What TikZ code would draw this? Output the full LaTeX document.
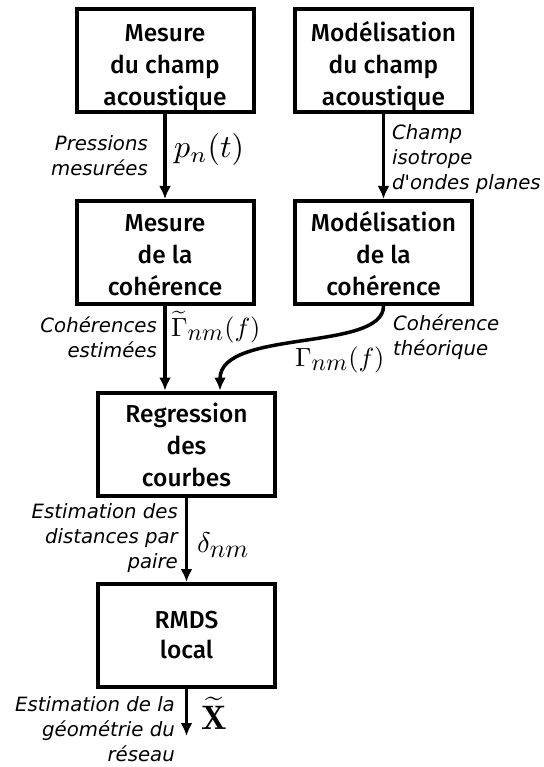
\documentclass[tikz,border=0pt]{standalone}
\usepackage{graphicx}
\usepackage{fontspec}
\newfontfamily\boxfont{Fira Sans Medium}
\newfontfamily\labfont{DejaVu Sans}[ItalicFont={DejaVu Sans Oblique}]
\DeclareMathSizes{10.95}{10.95}{10}{7}
\newcommand{\mathbigA}[2]{\scalebox{#1}{\fontsize{10.95}{13}\selectfont$#2$}}
\newcommand{\mathbigB}[2]{\scalebox{#1}{\fontsize{10}{12}\selectfont$#2$}}
\usetikzlibrary{arrows.meta}
\tikzset{
  blk/.style={draw, line width=4pt, minimum width=177pt, minimum height=103pt,
    align=center, inner sep=0pt, font=\boxfont\fontsize{24.5}{32}\selectfont},
  lab/.style={inner sep=0pt, font=\labfont\itshape\fontsize{19.7}{25}\selectfont},
  mth/.style={inner sep=0pt, anchor=west},
  arr/.style={line width=3.5pt, -{Latex[length=13pt,width=12pt]}}
}
\begin{document}
\begin{tikzpicture}[x=1pt,y=-1pt]
\useasboundingbox (0,0) rectangle (543,767);
\node[blk] (b1) at (165,61) {\rule{0pt}{30pt}Mesure\\du champ\\acoustique};
\node[blk] (b2) at (383.5,61) {\rule{0pt}{30pt}Modélisation\\du champ\\acoustique};
\node[blk] (b3) at (165,252.5) {\rule{0pt}{23pt}Mesure\\de la\\cohérence};
\node[blk] (b4) at (383.5,252.5) {\rule{0pt}{23pt}Modélisation\\de la\\cohérence};
\node[blk] (b5) at (186.5,444) {\rule{0pt}{21pt}Regression\\des\\courbes};
\node[blk] (b6) at (186.5,635.5) {RMDS\\[-2pt]local};
\coordinate (cb) at ([xshift=33.5pt]b5.north);
\coordinate (fin) at (186.5,736);
\draw[arr] (b1.south) -- (b3.north);
\draw[arr] (b2.south) -- (b4.north);
\draw[arr] (b3.south) -- (b3.south |- b5.north);
\draw[arr] (b4.south) .. controls +(0,46) and +(0,-62) .. (cb);
\draw[arr] (b5.south) -- (b6.north);
\draw[arr] (b6.south) -- (fin);
\node[lab, anchor=east, align=right] (l1) at (148,156) {Pressions\\mesurées};
\node[lab, anchor=west, align=left] (l2) at (392,159) {Champ\\isotrope\\d\textquotesingle ondes planes};
\node[lab, anchor=east, align=right] (l3) at (157,337) {Cohérences\\estimées};
\node[lab, anchor=west, align=left] (l4) at (393,337) {Cohérence\\théorique};
\node[lab, anchor=east, align=right] (l5) at (178,538) {Estimation des\\distances par\\paire};
\node[lab, anchor=east, align=right] (l6) at (175,729) {Estimation de la\\géométrie du\\réseau};
\node[mth] (m1) at (174,150) {\mathbigB{3.2}{p_n(t)}};
\node[mth] (m2) at (171,327) {\mathbigA{2.4}{\widetilde{\Gamma}_{nm}(f)}};
\node[mth] (m3) at (295,360) {\mathbigA{2.4}{\Gamma_{nm}(f)}};
\node[mth] (m4) at (197,545) {\mathbigA{2.6}{\delta_{nm}}};
\node[mth] (m5) at (201,713) {\mathbigA{3.1}{\widetilde{\mathbf{X}}}};
\end{tikzpicture}
\end{document}
